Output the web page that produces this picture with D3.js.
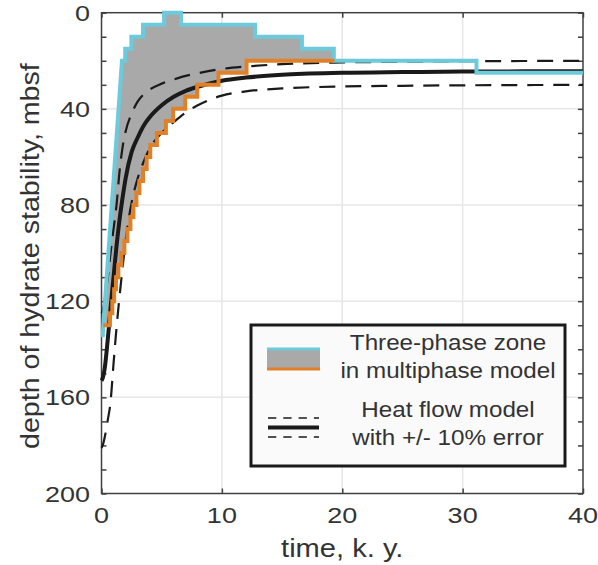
<!DOCTYPE html>
<html><head><meta charset="utf-8">
<script src="https://cdn.jsdelivr.net/npm/d3@7"></script>
<style>
html,body{margin:0;padding:0;background:#fff;}
text{font-family:"Liberation Sans",Arial,Helvetica,sans-serif;fill:#333;}
</style></head>
<body>
<svg id="chart" width="598" height="565"></svg>
<script>
// ---------- data ----------
const xTicks = [0, 10, 20, 30, 40];
const yTicks = [0, 10, 20, 30, 40, 50, 60, 70, 80, 90, 100, 110, 120, 130, 140, 150, 160, 170, 180, 190, 200];
const yLabelTicks = [0, 40, 80, 120, 160, 200];
const xGrid = [10, 20, 30];
const yGrid = [40, 80, 120, 160];

// three-phase zone upper boundary (vertices: time k.y., depth m)
const cyanTop = [[0.1,135],[0.15,130],[1.7,20],[1.97,20],[1.97,15],[2.48,15],[2.48,10],[3.45,10],[3.45,5],[5.2,5],[5.2,0],[6.6,0],[6.6,5],[12.75,5],[12.75,10],[16.65,10],[16.65,15],[19.3,15],[19.3,20],[31.15,20],[31.15,25],[40,25]];
// three-phase zone lower boundary (steps: time k.y., depth m)
const orangeSteps = [[0.15,130],[0.7,125],[0.9,120],[1.05,115],[1.2,110],[1.4,105],[1.65,100],[1.9,95],[2.15,90],[2.4,85],[2.65,80],[2.9,75],[3.15,70],[3.45,65],[3.75,60],[4.05,55],[4.6,50],[5.35,45],[5.95,40],[6.95,35],[7.95,30],[9.72,25],[12.05,20],[19.35,20]];

// heat flow model
const hfTime  = [0,0.1,0.25,0.5,0.75,1,1.25,1.5,1.75,2,2.5,3,3.5,4,5,6,7,8,10,12,15,20,25,30,35,40];
const hfMid   = [153,152,148.5,137,123,110,97,86,77,69,58,52,47,43.5,38.5,35,32.5,30.8,28.3,27,25.8,25,24.7,24.5,24.4,24.4];
const hfUpper = [125,124,120,111,100,90,80,66,56,49.5,42,37,34,32,29.5,27.8,26.3,25.2,23.4,22.4,21.4,20.7,20.4,20.2,20.1,20];
const hfLower = [181,180,177,170,162,146,131,118,106,95,79,69,62,56.5,50,45.5,41.5,38.5,34.5,32.7,31.5,30.7,30.4,30.2,30.1,30];

const legendLabels = [["Three-phase zone","in multiphase model"],["Heat flow model","with +/- 10% error"]];

// ---------- styles ----------
const C = {cyan:"#6ccadb", orange:"#e28028", fill:"#a9a9a9", black:"#1a1a1a", axis:"#404040", grid:"#e6e6e6"};

const svg = d3.select("#chart");
const x = d3.scaleLinear().domain([0,40]).range([101.5,583]);
const y = d3.scaleLinear().domain([0,200]).range([12.7,493.5]);
const [X0,X1] = x.range(), [Y0,Y1] = y.range();

// grid
svg.append("g").selectAll("line").data(xGrid).join("line")
  .attr("x1",d=>x(d)).attr("x2",d=>x(d)).attr("y1",Y0).attr("y2",Y1)
  .attr("stroke",C.grid).attr("stroke-width",1.5);
svg.append("g").selectAll("line").data(yGrid).join("line")
  .attr("y1",d=>y(d)).attr("y2",d=>y(d)).attr("x1",X0).attr("x2",X1)
  .attr("stroke",C.grid).attr("stroke-width",1.5);

// axes ticks (inward) on all sides
function ticks(axis, tr){
  const g = svg.append("g").attr("transform",tr).call(axis);
  g.select(".domain").remove();
  g.selectAll(".tick line").attr("stroke",C.axis).attr("stroke-width",1.5);
  g.selectAll(".tick text").remove();
}
ticks(d3.axisBottom(x).tickValues(xTicks).tickSize(-5), `translate(0,${Y1})`);
ticks(d3.axisTop(x).tickValues(xTicks).tickSize(-5), `translate(0,${Y0})`);
ticks(d3.axisLeft(y).tickValues(yTicks).tickSize(-5), `translate(${X0},0)`);
ticks(d3.axisRight(y).tickValues(yTicks).tickSize(-5), `translate(${X1},0)`);
svg.append("rect").attr("x",X0).attr("y",Y0).attr("width",X1-X0).attr("height",Y1-Y0)
  .attr("fill","none").attr("stroke",C.axis).attr("stroke-width",1.5);

// tick labels
const TF = 22.5, TS = 1.2;
svg.append("g").selectAll("text").data(xTicks).join("text")
  .attr("transform",d=>`translate(${x(d)},523) scale(${TS},1)`)
  .attr("text-anchor","middle").attr("font-size",TF).text(d=>d);
svg.append("g").selectAll("text").data(yLabelTicks).join("text")
  .attr("transform",d=>`translate(90,${y(d)+8}) scale(${TS},1)`)
  .attr("text-anchor","end").attr("font-size",TF).text(d=>d);

// axis labels
svg.append("text").attr("transform",`translate(${(X0+X1)/2},557) scale(1.12,1)`)
  .attr("text-anchor","middle").attr("font-size",26).text("time, k. y.");
svg.append("text").attr("transform",`translate(38.5,${(Y0+Y1)/2+3}) rotate(-90) scale(1.1,1)`)
  .attr("text-anchor","middle").attr("font-size",26).text("depth of hydrate stability, mbsf");

// orange step vertices
const orangeV = [];
orangeSteps.forEach((p,i)=>{
  orangeV.push(p);
  if(i<orangeSteps.length-1) orangeV.push([orangeSteps[i+1][0],p[1]]);
});
const tEnd = orangeSteps[orangeSteps.length-1][0];
const line = d3.line().x(d=>x(d[0])).y(d=>y(d[1]));
const smooth = d3.line().x(d=>x(d[0])).y(d=>y(d[1])).curve(d3.curveMonotoneX);

// fill between
const poly = cyanTop.filter(d=>d[0]<=tEnd).concat(orangeV.slice().reverse());
svg.append("path").attr("d",line(poly)+"Z").attr("fill",C.fill).attr("stroke","none");

// heat-flow curves
[hfUpper,hfLower].forEach(a=>{
  svg.append("path").attr("d",smooth(hfTime.map((t,i)=>[t,a[i]])))
    .attr("fill","none").attr("stroke",C.black).attr("stroke-width",2.2).attr("stroke-dasharray","16,10");
});
svg.append("path").attr("d",smooth(hfTime.map((t,i)=>[t,hfMid[i]])))
  .attr("fill","none").attr("stroke",C.black).attr("stroke-width",4);

// boundaries
svg.append("path").attr("d",line(cyanTop)).attr("fill","none").attr("stroke",C.cyan)
  .attr("stroke-width",4).attr("stroke-linejoin","miter");
svg.append("path").attr("d",line(orangeV)).attr("fill","none").attr("stroke",C.orange)
  .attr("stroke-width",4).attr("stroke-linejoin","miter");

// legend
const L = svg.append("g");
L.append("rect").attr("x",251).attr("y",325).attr("width",314).attr("height",141)
  .attr("fill","#fafafa").attr("stroke","#1a1a1a").attr("stroke-width",3);
L.append("rect").attr("x",267).attr("y",349).attr("width",53).attr("height",20).attr("fill",C.fill);
L.append("line").attr("x1",267).attr("x2",320).attr("y1",349).attr("y2",349).attr("stroke",C.cyan).attr("stroke-width",3.2);
L.append("line").attr("x1",267).attr("x2",320).attr("y1",369).attr("y2",369).attr("stroke",C.orange).attr("stroke-width",3.2);
[[418,1.5,"8.3,7"],[427.5,4,null],[437,1.5,"8.3,7"]].forEach(([yy,w,da])=>{
  const l = L.append("line").attr("x1",268).attr("x2",319).attr("y1",yy).attr("y2",yy)
    .attr("stroke",C.black).attr("stroke-width",w);
  if(da) l.attr("stroke-dasharray",da);
});
const LB = [[350,378],[417,445]];
legendLabels.forEach((pair,i)=>pair.forEach((s,j)=>{
  L.append("text").attr("transform",`translate(448,${LB[i][j]}) scale(1.1,1)`)
    .attr("text-anchor","middle").attr("font-size",22).text(s);
}));
</script>
</body></html>
